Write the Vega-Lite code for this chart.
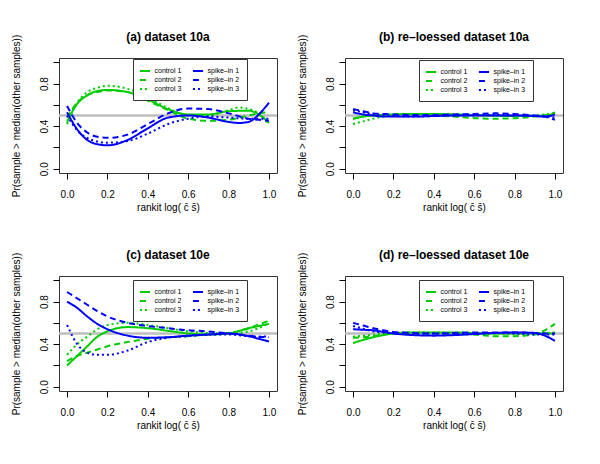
{
"$schema": "https://vega.github.io/schema/vega-lite/v6.json",
"padding": {"left": 10, "top": 30, "right": 5, "bottom": 5},
"background": "white",
"config": {
 "font": "Liberation Sans",
 "view": {"stroke": "#333333", "strokeWidth": 1},
 "title": {"fontSize": 12, "fontWeight": "bold", "color": "#000000", "offset": -10, "baseline": "alphabetic", "anchor": "middle", "frame": "group"},
 "axis": {"domain": false, "grid": false, "tickSize": 6, "tickColor": "#000000", "tickWidth": 1, "labelFontSize": 10, "labelColor": "#000000", "titleFontSize": 10, "titleFontWeight": "normal", "titleColor": "#000000"},
 "axisX": {"labelPadding": 10.5, "titlePadding": 3, "labelFlush": false},
 "axisY": {"labelAngle": -90, "labelAlign": "center", "labelBaseline": "alphabetic", "labelPadding": 5.5, "titlePadding": 18},
 "legend": {"columns": 2, "symbolType": "M-1.35,0H1.35", "symbolSize": 56, "symbolStrokeWidth": 2, "labelFontSize": 7, "labelColor": "#000000", "labelOffset": 4.5, "columnPadding": 6, "rowPadding": 0, "strokeColor": "#333333", "fillColor": "#ffffff", "padding": 7, "labelLimit": 0}
},
"datasets": {
 "ref": [{"ref": 0.5}],
 "a": [
  {"s":"control 1","x":0,"y":0.44},{"s":"control 1","x":0.05,"y":0.61},{"s":"control 1","x":0.1,"y":0.69},{"s":"control 1","x":0.15,"y":0.73},{"s":"control 1","x":0.2,"y":0.74},{"s":"control 1","x":0.3,"y":0.72},{"s":"control 1","x":0.4,"y":0.65},{"s":"control 1","x":0.5,"y":0.56},{"s":"control 1","x":0.6,"y":0.51},{"s":"control 1","x":0.7,"y":0.51},{"s":"control 1","x":0.8,"y":0.54},{"s":"control 1","x":0.9,"y":0.545},{"s":"control 1","x":0.95,"y":0.51},{"s":"control 1","x":1,"y":0.43},
  {"s":"control 2","x":0,"y":0.48},{"s":"control 2","x":0.05,"y":0.62},{"s":"control 2","x":0.1,"y":0.69},{"s":"control 2","x":0.15,"y":0.72},{"s":"control 2","x":0.2,"y":0.735},{"s":"control 2","x":0.3,"y":0.72},{"s":"control 2","x":0.4,"y":0.64},{"s":"control 2","x":0.5,"y":0.55},{"s":"control 2","x":0.6,"y":0.47},{"s":"control 2","x":0.7,"y":0.45},{"s":"control 2","x":0.8,"y":0.46},{"s":"control 2","x":0.9,"y":0.5},{"s":"control 2","x":0.95,"y":0.52},{"s":"control 2","x":1,"y":0.53},
  {"s":"control 3","x":0,"y":0.42},{"s":"control 3","x":0.05,"y":0.62},{"s":"control 3","x":0.1,"y":0.72},{"s":"control 3","x":0.15,"y":0.76},{"s":"control 3","x":0.2,"y":0.78},{"s":"control 3","x":0.3,"y":0.75},{"s":"control 3","x":0.4,"y":0.67},{"s":"control 3","x":0.5,"y":0.57},{"s":"control 3","x":0.6,"y":0.5},{"s":"control 3","x":0.7,"y":0.5},{"s":"control 3","x":0.8,"y":0.55},{"s":"control 3","x":0.85,"y":0.575},{"s":"control 3","x":0.9,"y":0.56},{"s":"control 3","x":0.95,"y":0.52},{"s":"control 3","x":1,"y":0.42},
  {"s":"spike–in 1","x":0,"y":0.53},{"s":"spike–in 1","x":0.05,"y":0.37},{"s":"spike–in 1","x":0.1,"y":0.27},{"s":"spike–in 1","x":0.15,"y":0.23},{"s":"spike–in 1","x":0.2,"y":0.22},{"s":"spike–in 1","x":0.3,"y":0.27},{"s":"spike–in 1","x":0.4,"y":0.38},{"s":"spike–in 1","x":0.5,"y":0.48},{"s":"spike–in 1","x":0.6,"y":0.5},{"s":"spike–in 1","x":0.7,"y":0.48},{"s":"spike–in 1","x":0.8,"y":0.44},{"s":"spike–in 1","x":0.85,"y":0.43},{"s":"spike–in 1","x":0.9,"y":0.44},{"s":"spike–in 1","x":0.95,"y":0.51},{"s":"spike–in 1","x":1,"y":0.62},
  {"s":"spike–in 2","x":0,"y":0.59},{"s":"spike–in 2","x":0.05,"y":0.43},{"s":"spike–in 2","x":0.1,"y":0.34},{"s":"spike–in 2","x":0.15,"y":0.3},{"s":"spike–in 2","x":0.2,"y":0.29},{"s":"spike–in 2","x":0.3,"y":0.32},{"s":"spike–in 2","x":0.4,"y":0.42},{"s":"spike–in 2","x":0.5,"y":0.52},{"s":"spike–in 2","x":0.6,"y":0.565},{"s":"spike–in 2","x":0.7,"y":0.56},{"s":"spike–in 2","x":0.8,"y":0.52},{"s":"spike–in 2","x":0.9,"y":0.47},{"s":"spike–in 2","x":0.95,"y":0.46},{"s":"spike–in 2","x":1,"y":0.45},
  {"s":"spike–in 3","x":0,"y":0.5},{"s":"spike–in 3","x":0.05,"y":0.36},{"s":"spike–in 3","x":0.1,"y":0.29},{"s":"spike–in 3","x":0.15,"y":0.255},{"s":"spike–in 3","x":0.2,"y":0.245},{"s":"spike–in 3","x":0.3,"y":0.26},{"s":"spike–in 3","x":0.4,"y":0.33},{"s":"spike–in 3","x":0.5,"y":0.42},{"s":"spike–in 3","x":0.6,"y":0.47},{"s":"spike–in 3","x":0.7,"y":0.49},{"s":"spike–in 3","x":0.8,"y":0.48},{"s":"spike–in 3","x":0.9,"y":0.47},{"s":"spike–in 3","x":0.95,"y":0.47},{"s":"spike–in 3","x":1,"y":0.47}
 ],
 "b": [
  {"s":"control 1","x":0,"y":0.47},{"s":"control 1","x":0.05,"y":0.49},{"s":"control 1","x":0.1,"y":0.5},{"s":"control 1","x":0.15,"y":0.505},{"s":"control 1","x":0.2,"y":0.51},{"s":"control 1","x":0.3,"y":0.515},{"s":"control 1","x":0.4,"y":0.515},{"s":"control 1","x":0.5,"y":0.51},{"s":"control 1","x":0.6,"y":0.505},{"s":"control 1","x":0.7,"y":0.5},{"s":"control 1","x":0.8,"y":0.495},{"s":"control 1","x":0.9,"y":0.495},{"s":"control 1","x":0.95,"y":0.5},{"s":"control 1","x":1,"y":0.52},
  {"s":"control 2","x":0,"y":0.47},{"s":"control 2","x":0.05,"y":0.49},{"s":"control 2","x":0.1,"y":0.505},{"s":"control 2","x":0.15,"y":0.51},{"s":"control 2","x":0.2,"y":0.51},{"s":"control 2","x":0.3,"y":0.51},{"s":"control 2","x":0.4,"y":0.5},{"s":"control 2","x":0.5,"y":0.49},{"s":"control 2","x":0.6,"y":0.475},{"s":"control 2","x":0.7,"y":0.47},{"s":"control 2","x":0.8,"y":0.475},{"s":"control 2","x":0.9,"y":0.49},{"s":"control 2","x":0.95,"y":0.5},{"s":"control 2","x":1,"y":0.53},
  {"s":"control 3","x":0,"y":0.42},{"s":"control 3","x":0.05,"y":0.445},{"s":"control 3","x":0.1,"y":0.47},{"s":"control 3","x":0.15,"y":0.49},{"s":"control 3","x":0.2,"y":0.5},{"s":"control 3","x":0.3,"y":0.51},{"s":"control 3","x":0.4,"y":0.51},{"s":"control 3","x":0.5,"y":0.51},{"s":"control 3","x":0.6,"y":0.5},{"s":"control 3","x":0.7,"y":0.5},{"s":"control 3","x":0.8,"y":0.5},{"s":"control 3","x":0.9,"y":0.5},{"s":"control 3","x":0.95,"y":0.51},{"s":"control 3","x":1,"y":0.52},
  {"s":"spike–in 1","x":0,"y":0.53},{"s":"spike–in 1","x":0.05,"y":0.51},{"s":"spike–in 1","x":0.1,"y":0.5},{"s":"spike–in 1","x":0.15,"y":0.49},{"s":"spike–in 1","x":0.2,"y":0.49},{"s":"spike–in 1","x":0.3,"y":0.49},{"s":"spike–in 1","x":0.4,"y":0.495},{"s":"spike–in 1","x":0.5,"y":0.5},{"s":"spike–in 1","x":0.6,"y":0.5},{"s":"spike–in 1","x":0.7,"y":0.5},{"s":"spike–in 1","x":0.8,"y":0.5},{"s":"spike–in 1","x":0.9,"y":0.495},{"s":"spike–in 1","x":0.95,"y":0.49},{"s":"spike–in 1","x":1,"y":0.51},
  {"s":"spike–in 2","x":0,"y":0.56},{"s":"spike–in 2","x":0.05,"y":0.54},{"s":"spike–in 2","x":0.1,"y":0.52},{"s":"spike–in 2","x":0.15,"y":0.515},{"s":"spike–in 2","x":0.2,"y":0.51},{"s":"spike–in 2","x":0.3,"y":0.505},{"s":"spike–in 2","x":0.4,"y":0.505},{"s":"spike–in 2","x":0.5,"y":0.51},{"s":"spike–in 2","x":0.6,"y":0.515},{"s":"spike–in 2","x":0.7,"y":0.52},{"s":"spike–in 2","x":0.8,"y":0.515},{"s":"spike–in 2","x":0.9,"y":0.5},{"s":"spike–in 2","x":0.95,"y":0.49},{"s":"spike–in 2","x":1,"y":0.46},
  {"s":"spike–in 3","x":0,"y":0.55},{"s":"spike–in 3","x":0.05,"y":0.53},{"s":"spike–in 3","x":0.1,"y":0.51},{"s":"spike–in 3","x":0.15,"y":0.5},{"s":"spike–in 3","x":0.2,"y":0.495},{"s":"spike–in 3","x":0.3,"y":0.49},{"s":"spike–in 3","x":0.4,"y":0.495},{"s":"spike–in 3","x":0.5,"y":0.5},{"s":"spike–in 3","x":0.6,"y":0.505},{"s":"spike–in 3","x":0.7,"y":0.505},{"s":"spike–in 3","x":0.8,"y":0.5},{"s":"spike–in 3","x":0.9,"y":0.495},{"s":"spike–in 3","x":0.95,"y":0.49},{"s":"spike–in 3","x":1,"y":0.48}
 ],
 "c": [
  {"s":"control 1","x":0,"y":0.2},{"s":"control 1","x":0.05,"y":0.29},{"s":"control 1","x":0.1,"y":0.38},{"s":"control 1","x":0.15,"y":0.47},{"s":"control 1","x":0.2,"y":0.52},{"s":"control 1","x":0.3,"y":0.56},{"s":"control 1","x":0.4,"y":0.55},{"s":"control 1","x":0.5,"y":0.525},{"s":"control 1","x":0.6,"y":0.5},{"s":"control 1","x":0.7,"y":0.49},{"s":"control 1","x":0.8,"y":0.5},{"s":"control 1","x":0.9,"y":0.55},{"s":"control 1","x":0.95,"y":0.57},{"s":"control 1","x":1,"y":0.59},
  {"s":"control 2","x":0,"y":0.24},{"s":"control 2","x":0.05,"y":0.29},{"s":"control 2","x":0.1,"y":0.32},{"s":"control 2","x":0.15,"y":0.35},{"s":"control 2","x":0.2,"y":0.38},{"s":"control 2","x":0.3,"y":0.42},{"s":"control 2","x":0.4,"y":0.45},{"s":"control 2","x":0.5,"y":0.465},{"s":"control 2","x":0.6,"y":0.475},{"s":"control 2","x":0.7,"y":0.49},{"s":"control 2","x":0.8,"y":0.505},{"s":"control 2","x":0.9,"y":0.55},{"s":"control 2","x":0.95,"y":0.585},{"s":"control 2","x":1,"y":0.62},
  {"s":"control 3","x":0,"y":0.3},{"s":"control 3","x":0.05,"y":0.4},{"s":"control 3","x":0.1,"y":0.47},{"s":"control 3","x":0.15,"y":0.54},{"s":"control 3","x":0.2,"y":0.58},{"s":"control 3","x":0.3,"y":0.6},{"s":"control 3","x":0.4,"y":0.58},{"s":"control 3","x":0.5,"y":0.55},{"s":"control 3","x":0.6,"y":0.52},{"s":"control 3","x":0.7,"y":0.505},{"s":"control 3","x":0.8,"y":0.5},{"s":"control 3","x":0.9,"y":0.52},{"s":"control 3","x":0.95,"y":0.55},{"s":"control 3","x":1,"y":0.6},
  {"s":"spike–in 1","x":0,"y":0.8},{"s":"spike–in 1","x":0.05,"y":0.74},{"s":"spike–in 1","x":0.1,"y":0.66},{"s":"spike–in 1","x":0.15,"y":0.59},{"s":"spike–in 1","x":0.2,"y":0.54},{"s":"spike–in 1","x":0.3,"y":0.48},{"s":"spike–in 1","x":0.4,"y":0.46},{"s":"spike–in 1","x":0.5,"y":0.465},{"s":"spike–in 1","x":0.6,"y":0.48},{"s":"spike–in 1","x":0.7,"y":0.49},{"s":"spike–in 1","x":0.8,"y":0.5},{"s":"spike–in 1","x":0.9,"y":0.475},{"s":"spike–in 1","x":0.95,"y":0.45},{"s":"spike–in 1","x":1,"y":0.425},
  {"s":"spike–in 2","x":0,"y":0.89},{"s":"spike–in 2","x":0.05,"y":0.83},{"s":"spike–in 2","x":0.1,"y":0.77},{"s":"spike–in 2","x":0.15,"y":0.71},{"s":"spike–in 2","x":0.2,"y":0.66},{"s":"spike–in 2","x":0.3,"y":0.6},{"s":"spike–in 2","x":0.4,"y":0.57},{"s":"spike–in 2","x":0.5,"y":0.55},{"s":"spike–in 2","x":0.6,"y":0.53},{"s":"spike–in 2","x":0.7,"y":0.52},{"s":"spike–in 2","x":0.8,"y":0.5},{"s":"spike–in 2","x":0.9,"y":0.48},{"s":"spike–in 2","x":0.95,"y":0.47},{"s":"spike–in 2","x":1,"y":0.465},
  {"s":"spike–in 3","x":0,"y":0.58},{"s":"spike–in 3","x":0.05,"y":0.4},{"s":"spike–in 3","x":0.1,"y":0.32},{"s":"spike–in 3","x":0.15,"y":0.3},{"s":"spike–in 3","x":0.2,"y":0.3},{"s":"spike–in 3","x":0.3,"y":0.34},{"s":"spike–in 3","x":0.4,"y":0.42},{"s":"spike–in 3","x":0.5,"y":0.46},{"s":"spike–in 3","x":0.6,"y":0.475},{"s":"spike–in 3","x":0.7,"y":0.49},{"s":"spike–in 3","x":0.8,"y":0.49},{"s":"spike–in 3","x":0.9,"y":0.475},{"s":"spike–in 3","x":0.95,"y":0.47},{"s":"spike–in 3","x":1,"y":0.475}
 ],
 "d": [
  {"s":"control 1","x":0,"y":0.41},{"s":"control 1","x":0.05,"y":0.44},{"s":"control 1","x":0.1,"y":0.465},{"s":"control 1","x":0.15,"y":0.485},{"s":"control 1","x":0.2,"y":0.5},{"s":"control 1","x":0.3,"y":0.51},{"s":"control 1","x":0.4,"y":0.51},{"s":"control 1","x":0.5,"y":0.51},{"s":"control 1","x":0.6,"y":0.505},{"s":"control 1","x":0.7,"y":0.5},{"s":"control 1","x":0.8,"y":0.5},{"s":"control 1","x":0.9,"y":0.5},{"s":"control 1","x":0.95,"y":0.5},{"s":"control 1","x":1,"y":0.5},
  {"s":"control 2","x":0,"y":0.46},{"s":"control 2","x":0.05,"y":0.465},{"s":"control 2","x":0.1,"y":0.475},{"s":"control 2","x":0.15,"y":0.49},{"s":"control 2","x":0.2,"y":0.5},{"s":"control 2","x":0.3,"y":0.5},{"s":"control 2","x":0.4,"y":0.5},{"s":"control 2","x":0.5,"y":0.495},{"s":"control 2","x":0.6,"y":0.49},{"s":"control 2","x":0.7,"y":0.475},{"s":"control 2","x":0.8,"y":0.475},{"s":"control 2","x":0.9,"y":0.49},{"s":"control 2","x":0.95,"y":0.53},{"s":"control 2","x":1,"y":0.59},
  {"s":"control 3","x":0,"y":0.47},{"s":"control 3","x":0.05,"y":0.48},{"s":"control 3","x":0.1,"y":0.49},{"s":"control 3","x":0.15,"y":0.5},{"s":"control 3","x":0.2,"y":0.505},{"s":"control 3","x":0.3,"y":0.51},{"s":"control 3","x":0.4,"y":0.51},{"s":"control 3","x":0.5,"y":0.505},{"s":"control 3","x":0.6,"y":0.5},{"s":"control 3","x":0.7,"y":0.5},{"s":"control 3","x":0.8,"y":0.5},{"s":"control 3","x":0.9,"y":0.5},{"s":"control 3","x":0.95,"y":0.505},{"s":"control 3","x":1,"y":0.51},
  {"s":"spike–in 1","x":0,"y":0.54},{"s":"spike–in 1","x":0.05,"y":0.535},{"s":"spike–in 1","x":0.1,"y":0.53},{"s":"spike–in 1","x":0.15,"y":0.515},{"s":"spike–in 1","x":0.2,"y":0.5},{"s":"spike–in 1","x":0.3,"y":0.485},{"s":"spike–in 1","x":0.4,"y":0.48},{"s":"spike–in 1","x":0.5,"y":0.485},{"s":"spike–in 1","x":0.6,"y":0.495},{"s":"spike–in 1","x":0.7,"y":0.505},{"s":"spike–in 1","x":0.8,"y":0.51},{"s":"spike–in 1","x":0.9,"y":0.505},{"s":"spike–in 1","x":0.95,"y":0.48},{"s":"spike–in 1","x":1,"y":0.43},
  {"s":"spike–in 2","x":0,"y":0.6},{"s":"spike–in 2","x":0.05,"y":0.575},{"s":"spike–in 2","x":0.1,"y":0.55},{"s":"spike–in 2","x":0.15,"y":0.53},{"s":"spike–in 2","x":0.2,"y":0.515},{"s":"spike–in 2","x":0.3,"y":0.505},{"s":"spike–in 2","x":0.4,"y":0.5},{"s":"spike–in 2","x":0.5,"y":0.505},{"s":"spike–in 2","x":0.6,"y":0.51},{"s":"spike–in 2","x":0.7,"y":0.51},{"s":"spike–in 2","x":0.8,"y":0.51},{"s":"spike–in 2","x":0.9,"y":0.505},{"s":"spike–in 2","x":0.95,"y":0.5},{"s":"spike–in 2","x":1,"y":0.5},
  {"s":"spike–in 3","x":0,"y":0.57},{"s":"spike–in 3","x":0.05,"y":0.545},{"s":"spike–in 3","x":0.1,"y":0.52},{"s":"spike–in 3","x":0.15,"y":0.51},{"s":"spike–in 3","x":0.2,"y":0.505},{"s":"spike–in 3","x":0.3,"y":0.5},{"s":"spike–in 3","x":0.4,"y":0.5},{"s":"spike–in 3","x":0.5,"y":0.5},{"s":"spike–in 3","x":0.6,"y":0.5},{"s":"spike–in 3","x":0.7,"y":0.505},{"s":"spike–in 3","x":0.8,"y":0.5},{"s":"spike–in 3","x":0.9,"y":0.49},{"s":"spike–in 3","x":0.95,"y":0.49},{"s":"spike–in 3","x":1,"y":0.49}
 ]
},
"columns": 2,
"spacing": {"row": 103, "column": 68},
"bounds": "flush",
"resolve": {"scale": {"color": "independent", "strokeDash": "independent"}, "legend": {"color": "independent", "strokeDash": "independent"}},
"concat": [
 {"title": "(a) dataset 10a", "width": 218, "height": 115,
  "layer": [
   {"data": {"name": "ref"}, "mark": {"type": "rule", "color": "#bebebe", "strokeWidth": 2.5},
    "encoding": {"y": {"field": "ref", "type": "quantitative", "title": "Pr(sample > median(other samples))", "scale": {"domain": [-0.04, 1.04], "nice": false, "zero": false}, "axis": {"values": [0, 0.2, 0.4, 0.6, 0.8, 1], "labelExpr": "round(datum.value*10) % 4 == 0 ? format(datum.value, '.1f') : ''"}}}},
   {"data": {"name": "a"}, "mark": {"type": "line", "strokeWidth": 2, "interpolate": "monotone"},
    "encoding": {
     "x": {"field": "x", "type": "quantitative", "title": "rankit log( c\u0304 s\u0304)", "scale": {"domain": [-0.04, 1.04], "nice": false, "zero": false}, "axis": {"values": [0, 0.2, 0.4, 0.6, 0.8, 1], "format": ".1f"}},
     "y": {"field": "y", "type": "quantitative", "title": "Pr(sample > median(other samples))", "scale": {"domain": [-0.04, 1.04], "nice": false, "zero": false}, "axis": {"values": [0, 0.2, 0.4, 0.6, 0.8, 1], "labelExpr": "round(datum.value*10) % 4 == 0 ? format(datum.value, '.1f') : ''"}},
     "color": {"field": "s", "type": "nominal", "title": null, "scale": {"domain": ["control 1", "control 2", "control 3", "spike–in 1", "spike–in 2", "spike–in 3"], "range": ["#00cd00", "#00cd00", "#00cd00", "#0000ff", "#0000ff", "#0000ff"]}, "legend": {"orient": "none", "legendX": 74, "legendY": 1}},
     "strokeDash": {"field": "s", "type": "nominal", "title": null, "scale": {"domain": ["control 1", "control 2", "control 3", "spike–in 1", "spike–in 2", "spike–in 3"], "range": [[1, 0], [6, 4], [2, 3], [1, 0], [6, 4], [2, 3]]}, "legend": {"orient": "none", "legendX": 74, "legendY": 1}}
    }}
  ]},
 {"title": "(b) re–loessed dataset 10a", "width": 218, "height": 115,
  "layer": [
   {"data": {"name": "ref"}, "mark": {"type": "rule", "color": "#bebebe", "strokeWidth": 2.5},
    "encoding": {"y": {"field": "ref", "type": "quantitative", "title": "Pr(sample > median(other samples))", "scale": {"domain": [-0.04, 1.04], "nice": false, "zero": false}, "axis": {"values": [0, 0.2, 0.4, 0.6, 0.8, 1], "labelExpr": "round(datum.value*10) % 4 == 0 ? format(datum.value, '.1f') : ''"}}}},
   {"data": {"name": "b"}, "mark": {"type": "line", "strokeWidth": 2, "interpolate": "monotone"},
    "encoding": {
     "x": {"field": "x", "type": "quantitative", "title": "rankit log( c\u0304 s\u0304)", "scale": {"domain": [-0.04, 1.04], "nice": false, "zero": false}, "axis": {"values": [0, 0.2, 0.4, 0.6, 0.8, 1], "format": ".1f"}},
     "y": {"field": "y", "type": "quantitative", "title": "Pr(sample > median(other samples))", "scale": {"domain": [-0.04, 1.04], "nice": false, "zero": false}, "axis": {"values": [0, 0.2, 0.4, 0.6, 0.8, 1], "labelExpr": "round(datum.value*10) % 4 == 0 ? format(datum.value, '.1f') : ''"}},
     "color": {"field": "s", "type": "nominal", "title": null, "scale": {"domain": ["control 1", "control 2", "control 3", "spike–in 1", "spike–in 2", "spike–in 3"], "range": ["#00cd00", "#00cd00", "#00cd00", "#0000ff", "#0000ff", "#0000ff"]}, "legend": {"orient": "none", "legendX": 74, "legendY": 2}},
     "strokeDash": {"field": "s", "type": "nominal", "title": null, "scale": {"domain": ["control 1", "control 2", "control 3", "spike–in 1", "spike–in 2", "spike–in 3"], "range": [[1, 0], [6, 4], [2, 3], [1, 0], [6, 4], [2, 3]]}, "legend": {"orient": "none", "legendX": 74, "legendY": 2}}
    }}
  ]},
 {"title": "(c) dataset 10e", "width": 218, "height": 115,
  "layer": [
   {"data": {"name": "ref"}, "mark": {"type": "rule", "color": "#bebebe", "strokeWidth": 2.5},
    "encoding": {"y": {"field": "ref", "type": "quantitative", "title": "Pr(sample > median(other samples))", "scale": {"domain": [-0.04, 1.04], "nice": false, "zero": false}, "axis": {"values": [0, 0.2, 0.4, 0.6, 0.8, 1], "labelExpr": "round(datum.value*10) % 4 == 0 ? format(datum.value, '.1f') : ''"}}}},
   {"data": {"name": "c"}, "mark": {"type": "line", "strokeWidth": 2, "interpolate": "monotone"},
    "encoding": {
     "x": {"field": "x", "type": "quantitative", "title": "rankit log( c\u0304 s\u0304)", "scale": {"domain": [-0.04, 1.04], "nice": false, "zero": false}, "axis": {"values": [0, 0.2, 0.4, 0.6, 0.8, 1], "format": ".1f"}},
     "y": {"field": "y", "type": "quantitative", "title": "Pr(sample > median(other samples))", "scale": {"domain": [-0.04, 1.04], "nice": false, "zero": false}, "axis": {"values": [0, 0.2, 0.4, 0.6, 0.8, 1], "labelExpr": "round(datum.value*10) % 4 == 0 ? format(datum.value, '.1f') : ''"}},
     "color": {"field": "s", "type": "nominal", "title": null, "scale": {"domain": ["control 1", "control 2", "control 3", "spike–in 1", "spike–in 2", "spike–in 3"], "range": ["#00cd00", "#00cd00", "#00cd00", "#0000ff", "#0000ff", "#0000ff"]}, "legend": {"orient": "none", "legendX": 74, "legendY": 4}},
     "strokeDash": {"field": "s", "type": "nominal", "title": null, "scale": {"domain": ["control 1", "control 2", "control 3", "spike–in 1", "spike–in 2", "spike–in 3"], "range": [[1, 0], [6, 4], [2, 3], [1, 0], [6, 4], [2, 3]]}, "legend": {"orient": "none", "legendX": 74, "legendY": 4}}
    }}
  ]},
 {"title": "(d) re–loessed dataset 10e", "width": 218, "height": 115,
  "layer": [
   {"data": {"name": "ref"}, "mark": {"type": "rule", "color": "#bebebe", "strokeWidth": 2.5},
    "encoding": {"y": {"field": "ref", "type": "quantitative", "title": "Pr(sample > median(other samples))", "scale": {"domain": [-0.04, 1.04], "nice": false, "zero": false}, "axis": {"values": [0, 0.2, 0.4, 0.6, 0.8, 1], "labelExpr": "round(datum.value*10) % 4 == 0 ? format(datum.value, '.1f') : ''"}}}},
   {"data": {"name": "d"}, "mark": {"type": "line", "strokeWidth": 2, "interpolate": "monotone"},
    "encoding": {
     "x": {"field": "x", "type": "quantitative", "title": "rankit log( c\u0304 s\u0304)", "scale": {"domain": [-0.04, 1.04], "nice": false, "zero": false}, "axis": {"values": [0, 0.2, 0.4, 0.6, 0.8, 1], "format": ".1f"}},
     "y": {"field": "y", "type": "quantitative", "title": "Pr(sample > median(other samples))", "scale": {"domain": [-0.04, 1.04], "nice": false, "zero": false}, "axis": {"values": [0, 0.2, 0.4, 0.6, 0.8, 1], "labelExpr": "round(datum.value*10) % 4 == 0 ? format(datum.value, '.1f') : ''"}},
     "color": {"field": "s", "type": "nominal", "title": null, "scale": {"domain": ["control 1", "control 2", "control 3", "spike–in 1", "spike–in 2", "spike–in 3"], "range": ["#00cd00", "#00cd00", "#00cd00", "#0000ff", "#0000ff", "#0000ff"]}, "legend": {"orient": "none", "legendX": 74, "legendY": 4}},
     "strokeDash": {"field": "s", "type": "nominal", "title": null, "scale": {"domain": ["control 1", "control 2", "control 3", "spike–in 1", "spike–in 2", "spike–in 3"], "range": [[1, 0], [6, 4], [2, 3], [1, 0], [6, 4], [2, 3]]}, "legend": {"orient": "none", "legendX": 74, "legendY": 4}}
    }}
  ]}
]
}
